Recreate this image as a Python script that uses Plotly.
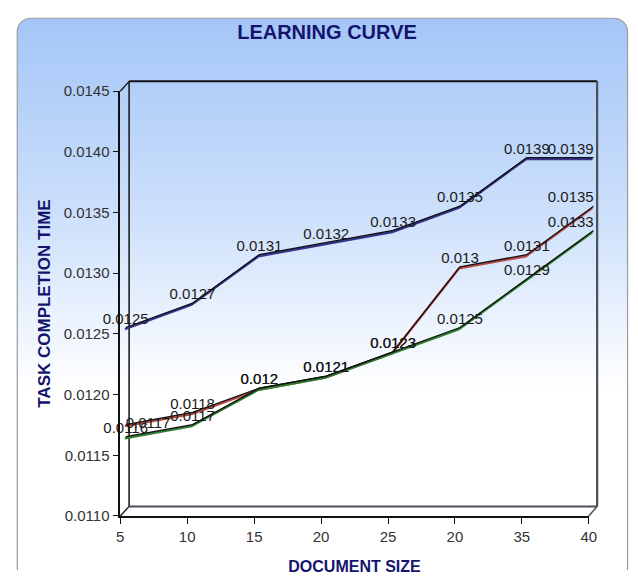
import base64
import plotly.graph_objects as go

# ---------------- data ----------------
doc_size = [5, 10, 15, 20, 25, 30, 35, 40]
tick_labels = ["5", "10", "15", "20", "25", "20", "35", "40"]
series_a = [0.0125, 0.0127, 0.0131, 0.0132, 0.0133, 0.0135, 0.0139, 0.0139]   # blue
series_b = [0.0117, 0.0118, 0.0120, 0.0121, 0.0123, 0.0130, 0.0131, 0.0135]   # red
series_c = [0.0116, 0.0117, 0.0120, 0.0121, 0.0123, 0.0125, 0.0129, 0.0133]   # green
y_ticks = [0.0110, 0.0115, 0.0120, 0.0125, 0.0130, 0.0135, 0.0140, 0.0145]

W, H = 638, 578
FONT = "Liberation Sans, Arial, sans-serif"
NAVY = "#14146e"


def px(x):
    return x / W


def py(y):
    return 1 - y / H


def label_fmt(v):
    return f"{v:.4f}".rstrip("0")


# pixel geometry of the pseudo-3D frame
FRONT = dict(x0=118.5, x1=596, y0=522.3, y1=84.7)
BACK = dict(x0=127.5, x1=604.5, y0=512.5, y1=74.5)
MID = dict(x0=123, x1=600, y0=517.3, y1=79.7)
EDGE = (1.0, -1.6)

fig = go.Figure()

pos_a = ["top center"] * 7 + ["top left"]
pos_b = ["middle right", "top center", "top center", "top center", "top center",
         "top center", "top center", "top left"]
pos_c = ["top center"] * 7 + ["top left"]

for vals, col, pos in [(series_b, "#b84a48", pos_b), (series_c, "#2f7d2f", pos_c),
                       (series_a, "#34348c", pos_a)]:
    fig.add_trace(go.Scatter(x=doc_size, y=vals, mode="lines", xaxis="x", yaxis="y",
                             line=dict(color=col, width=2.4), hoverinfo="skip",
                             showlegend=False))
    fig.add_trace(go.Scatter(x=doc_size, y=vals, mode="lines+text", xaxis="x2", yaxis="y2",
                             line=dict(color="#111111", width=1.3),
                             text=[label_fmt(v) for v in vals], textposition=pos,
                             textfont=dict(family=FONT, size=15, color="#1a1a1a"),
                             cliponaxis=False, hoverinfo="skip", showlegend=False))

# front axes (ticks & titles)
fig.add_trace(go.Scatter(x=[], y=[], xaxis="x3", yaxis="y3", showlegend=False))

hidden = dict(visible=False, fixedrange=True)
fig.update_layout(
    width=W, height=H,
    margin=dict(l=0, r=0, t=0, b=0),
    paper_bgcolor="white", plot_bgcolor="rgba(0,0,0,0)",
    xaxis=dict(domain=[px(MID["x0"]), px(MID["x1"])], range=[5, 40], anchor="y", **hidden),
    yaxis=dict(domain=[py(MID["y0"]), py(MID["y1"])], range=[0.011, 0.0145], anchor="x", **hidden),
    xaxis2=dict(domain=[px(MID["x0"] + EDGE[0]), px(MID["x1"] + EDGE[0])], range=[5, 40],
                anchor="y2", **hidden),
    yaxis2=dict(domain=[py(MID["y0"] + EDGE[1]), py(MID["y1"] + EDGE[1])],
                range=[0.011, 0.0145], anchor="x2", **hidden),
    xaxis3=dict(domain=[px(FRONT["x0"]), px(FRONT["x1"])], range=[5, 40], anchor="y3",
                tickmode="array", tickvals=doc_size, ticktext=tick_labels,
                showline=True, linecolor="#111111", linewidth=1.5, showgrid=False,
                zeroline=False, ticks="outside", ticklen=6, tickcolor="#111111",
                tickfont=dict(family=FONT, size=15, color="#333333"),
                title=dict(text="<b>DOCUMENT SIZE</b>", standoff=17,
                           font=dict(family=FONT, size=16, color=NAVY)),
                fixedrange=True),
    yaxis3=dict(domain=[py(FRONT["y0"]), py(FRONT["y1"])], range=[0.011, 0.0145], anchor="x3",
                tickmode="array", tickvals=y_ticks, ticktext=[f"{v:.4f}" for v in y_ticks],
                showline=True, linecolor="#111111", linewidth=1.5, showgrid=False,
                zeroline=False, ticks="outside", ticklen=6, tickcolor="#111111",
                tickfont=dict(family=FONT, size=15, color="#333333"),
                title=dict(text="<b>TASK COMPLETION TIME</b>", standoff=9,
                           font=dict(family=FONT, size=17, color=NAVY)),
                fixedrange=True),
    title=dict(text="<b>LEARNING CURVE</b>", x=px(327), xanchor="center",
               y=py(32), yanchor="middle",
               font=dict(family=FONT, size=20, color=NAVY)),
)

# gradient card background (SVG image)
svg = f"""<svg xmlns='http://www.w3.org/2000/svg' width='{W}' height='{H}' viewBox='0 0 {W} {H}' preserveAspectRatio='none'>
<defs><linearGradient id='g' x1='0' y1='0' x2='0' y2='1'>
<stop offset='0' stop-color='#a4c6f7'/>
<stop offset='0.35' stop-color='#cde0fb'/>
<stop offset='0.66' stop-color='#ffffff'/>
<stop offset='1' stop-color='#ffffff'/>
</linearGradient></defs>
<rect x='13.5' y='9.5' width='622' height='580' rx='14' ry='14' fill='url(#g)' stroke='#9a9a9a' stroke-width='1.2'/>
</svg>"""
uri = "data:image/svg+xml;base64," + base64.b64encode(svg.encode()).decode()
fig.add_layout_image(dict(source=uri, xref="paper", yref="paper", x=0, y=1,
                          sizex=1, sizey=1, sizing="stretch", layer="below",
                          xanchor="left", yanchor="top"))

# pseudo-3D back frame and connecting diagonals
shapes = [
    dict(type="line", x0=px(BACK["x0"]), x1=px(BACK["x1"]), y0=py(BACK["y1"]), y1=py(BACK["y1"]),
         line=dict(color="#111111", width=2)),
    dict(type="line", x0=px(BACK["x0"]), x1=px(BACK["x0"]), y0=py(BACK["y0"]), y1=py(BACK["y1"]),
         line=dict(color="#111111", width=1.5)),
    dict(type="line", x0=px(BACK["x1"]), x1=px(BACK["x1"]), y0=py(BACK["y0"]), y1=py(BACK["y1"]),
         line=dict(color="#4a4f5a", width=2.2)),
    dict(type="line", x0=px(BACK["x0"]), x1=px(BACK["x1"]), y0=py(BACK["y0"]), y1=py(BACK["y0"]),
         line=dict(color="#4a4f5a", width=2)),
    dict(type="line", x0=px(FRONT["x0"]), x1=px(BACK["x0"]), y0=py(FRONT["y1"]), y1=py(BACK["y1"]),
         line=dict(color="#111111", width=1.3)),
    dict(type="line", x0=px(FRONT["x0"]), x1=px(BACK["x0"]), y0=py(FRONT["y0"]), y1=py(BACK["y0"]),
         line=dict(color="#111111", width=1.3)),
    dict(type="line", x0=px(FRONT["x1"]), x1=px(BACK["x1"]), y0=py(FRONT["y0"]), y1=py(BACK["y0"]),
         line=dict(color="#4a4f5a", width=1.5)),
]
for s in shapes:
    s.update(xref="paper", yref="paper", layer="below")
fig.update_layout(shapes=shapes)

fig.write_html("out.html")
